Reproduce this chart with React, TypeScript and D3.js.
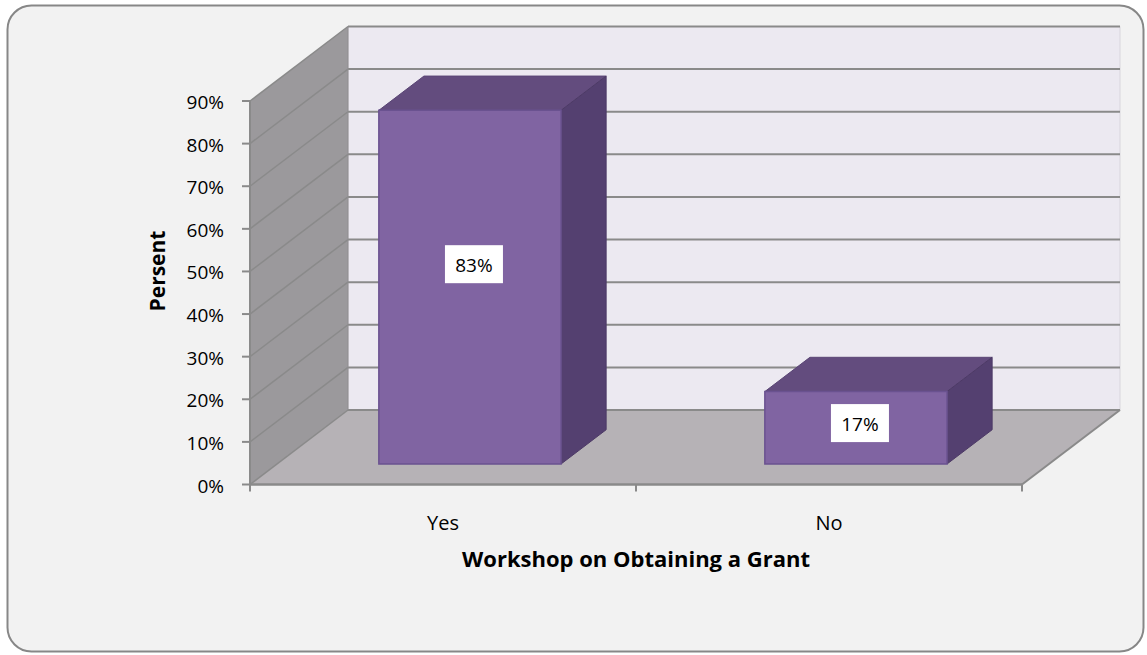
import React from "react";
import * as d3 from "d3";

const categories = ["Yes", "No"];
const values = [0.83, 0.17];
const valueLabels = ["83%", "17%"];
const yTicks = [0, 0.1, 0.2, 0.3, 0.4, 0.5, 0.6, 0.7, 0.8, 0.9];
const xTitle = "Workshop on Obtaining a Grant";
const yTitle = "Persent";

const W = 1147;
const H = 655;
const FONT = "'Open Sans', Lato, sans-serif";

export default function App() {
  const x0 = 250;
  const x1 = 1022;
  const DX = 98;
  const DY = -74.5;
  const y = d3.scaleLinear().domain([0, 0.9]).range([484.5, 101]);
  const xb = d3.scaleBand<string>().domain(categories).range([x0, x1]).padding(0);
  const bw = xb.bandwidth() * 0.472;
  const f0 = 0.275;
  const f1 = 0.735;

  const P = (x: number, v: number, d: number): [number, number] => [x + d * DX, y(v) + d * DY];
  const poly = (pts: [number, number][]) => pts.map((p) => p.join(",")).join(" ");

  const gridColor = "#8a8a8a";

  return (
    <div style={{ position: "fixed", left: 0, top: 0 }}>
      <svg width={W} height={H} style={{ display: "block", background: "#ffffff" }}>
        <rect x={7.5} y={5.5} width={1136} height={646} rx={24} fill="#f2f2f2" stroke="#878787" strokeWidth={2} />
        {/* back wall */}
        <polygon
          points={poly([P(x0, 0, 1), P(x1, 0, 1), P(x1, 0.9, 1), P(x0, 0.9, 1)])}
          fill="#ece9f1"
          stroke="#d8d5dc"
          strokeWidth={1}
        />
        {/* side wall */}
        <polygon points={poly([P(x0, 0, 0), P(x0, 0, 1), P(x0, 0.9, 1), P(x0, 0.9, 0)])} fill="#9b999c" />
        {/* floor */}
        <polygon points={poly([P(x0, 0, 0), P(x1, 0, 0), P(x1, 0, 1), P(x0, 0, 1)])} fill="#b6b2b6" />
        {/* grid lines on back and side wall */}
        {yTicks.map((t) => {
          const a = P(x0, t, 0);
          const b = P(x0, t, 1);
          const c = P(x1, t, 1);
          return (
            <g key={t}>
              <line x1={b[0]} y1={b[1]} x2={c[0]} y2={c[1]} stroke={gridColor} strokeWidth={2} />
              <line x1={a[0]} y1={a[1]} x2={b[0]} y2={b[1]} stroke={gridColor} strokeWidth={1.5} />
            </g>
          );
        })}
        {/* floor right edge */}
        {(() => {
          const a = P(x1, 0, 0);
          const b = P(x1, 0, 1);
          return <line x1={a[0]} y1={a[1]} x2={b[0]} y2={b[1]} stroke={gridColor} strokeWidth={2} />;
        })()}
        {/* back wall left edge */}
        {(() => {
          const a = P(x0, 0, 1);
          const b = P(x0, 0.9, 1);
          return <line x1={a[0]} y1={a[1]} x2={b[0]} y2={b[1]} stroke="#8f8d90" strokeWidth={1} />;
        })()}
        {/* axes */}
        <line x1={x0} y1={y(0)} x2={x1} y2={y(0)} stroke={gridColor} strokeWidth={2.5} />
        <line x1={x0} y1={y(0)} x2={x0} y2={y(0.9)} stroke={gridColor} strokeWidth={2} />
        {yTicks.map((t) => (
          <g key={"yt" + t}>
            <line x1={x0 - 8} y1={y(t)} x2={x0} y2={y(t)} stroke={gridColor} strokeWidth={2} />
            <text
              x={x0 - 26}
              y={y(t) + 1}
              textAnchor="end"
              dominantBaseline="central"
              fontFamily={FONT}
              fontSize={19}
              fill="#000"
            >
              {`${Math.round(t * 100)}%`}
            </text>
          </g>
        ))}
        {[x0, ...categories.map((c) => (xb(c) as number) + xb.bandwidth())].map((xt, i) => (
          <line key={"xt" + i} x1={xt} y1={y(0)} x2={xt} y2={y(0) + 7} stroke={gridColor} strokeWidth={2} />
        ))}
        {/* bars */}
        {categories.map((c, i) => {
          const cx = (xb(c) as number) + xb.bandwidth() / 2;
          const l = cx - bw / 2;
          const r = cx + bw / 2;
          const v = values[i];
          const fBL = P(l, 0, f0);
          const fBR = P(r, 0, f0);
          const fTL = P(l, v, f0);
          const fTR = P(r, v, f0);
          const bTL = P(l, v, f1);
          const bTR = P(r, v, f1);
          const bBR = P(r, 0, f1);
          const fcx = (fBL[0] + fBR[0]) / 2;
          const ly = fBL[1] - (fBL[1] - fTL[1]) * 0.565;
          const lx = fcx + 4;
          return (
            <g key={c}>
              <polygon points={poly([fTL, fTR, bTR, bTL])} fill="#634c7e" stroke="#5a4575" strokeWidth={1} />
              <polygon points={poly([fTR, fBR, bBR, bTR])} fill="#544070" stroke="#4d3a66" strokeWidth={1} />
              <polygon points={poly([fTL, fTR, fBR, fBL])} fill="#8064a2" stroke="#6a5290" strokeWidth={1.5} />
              <rect x={lx - 29} y={ly - 19} width={58} height={38} fill="#ffffff" />
              <text
                x={lx}
                y={ly + 1}
                textAnchor="middle"
                dominantBaseline="central"
                fontFamily={FONT}
                fontSize={19}
                fill="#000"
              >
                {valueLabels[i]}
              </text>
              <text
                x={cx}
                y={522}
                textAnchor="middle"
                dominantBaseline="central"
                fontFamily={FONT}
                fontSize={20}
                fill="#000"
              >
                {c}
              </text>
            </g>
          );
        })}
        <text
          x={636}
          y={558}
          textAnchor="middle"
          dominantBaseline="central"
          fontFamily={FONT}
          fontSize={22}
          fontWeight="bold"
          fill="#000"
        >
          {xTitle}
        </text>
        <text
          transform="translate(157,271) rotate(-90)"
          textAnchor="middle"
          dominantBaseline="central"
          fontFamily={FONT}
          fontSize={21}
          fontWeight="bold"
          fill="#000"
        >
          {yTitle}
        </text>
      </svg>
    </div>
  );
}
